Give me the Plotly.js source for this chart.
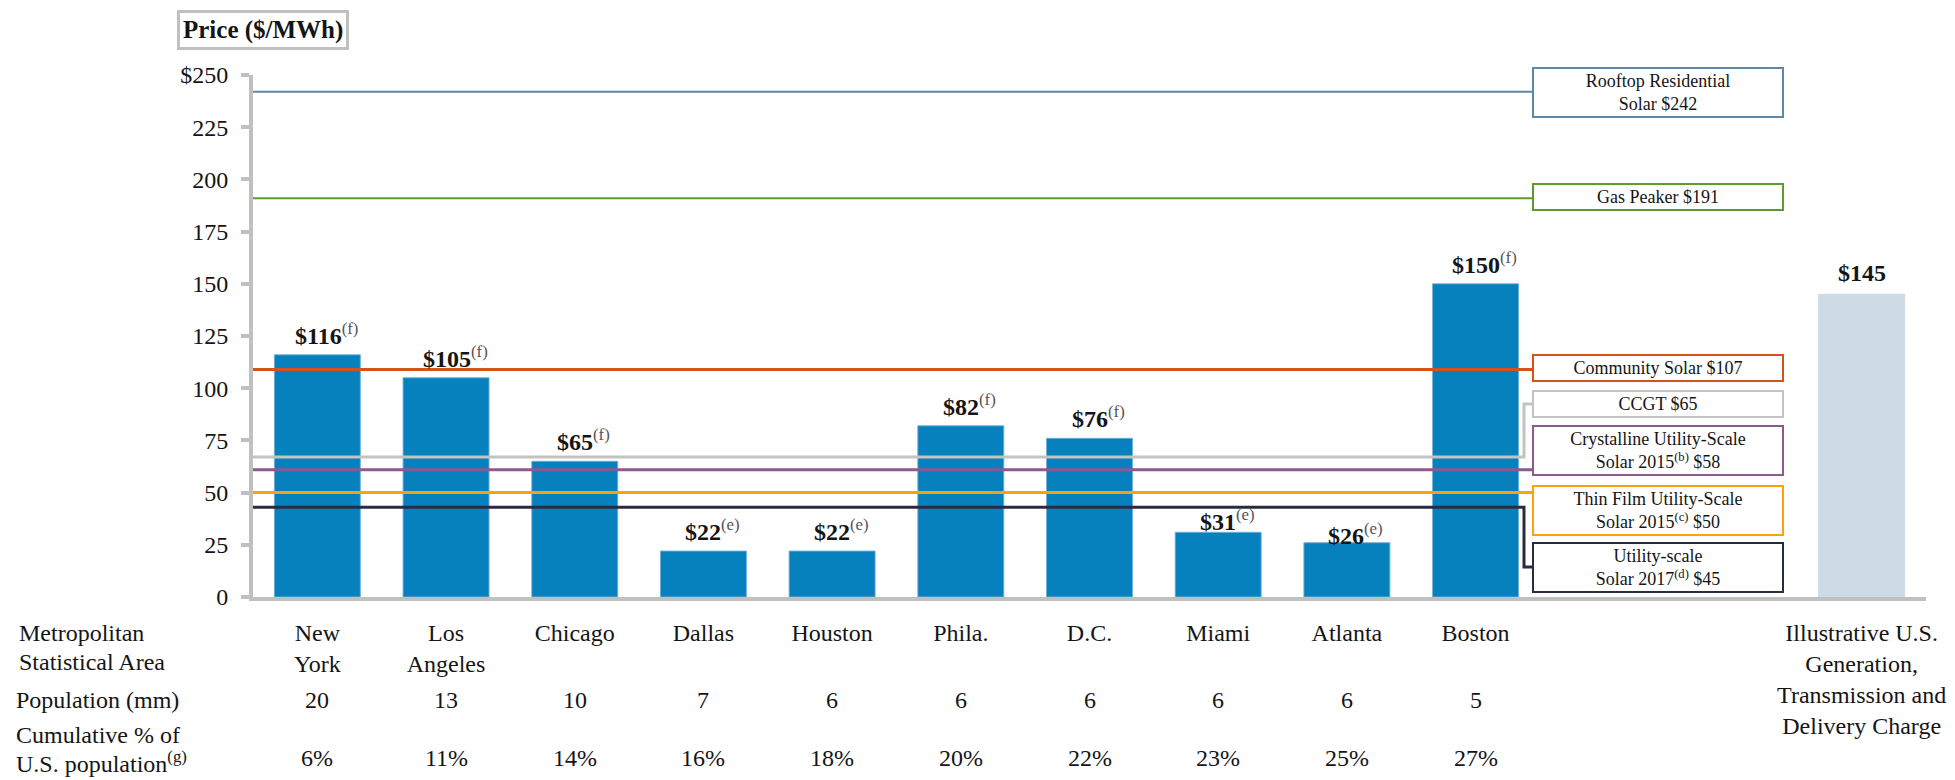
<!DOCTYPE html>
<html>
<head>
<meta charset="utf-8">
<script src="https://cdn.plot.ly/plotly-3.0.1.min.js"></script>
<style>
  html, body { margin: 0; padding: 0; background: #ffffff; }
  #chart { width: 1955px; height: 780px; }
</style>
</head>
<body>
<div id="chart"></div>
<script>
// ---------------- DATA ----------------
const cities = ['New<br>York', 'Los<br>Angeles', 'Chicago', 'Dallas', 'Houston', 'Phila.', 'D.C.', 'Miami', 'Atlanta', 'Boston'];
const prices = [116, 105, 65, 22, 22, 82, 76, 31, 26, 150];
const priceNotes = ['f', 'f', 'f', 'e', 'e', 'f', 'f', 'e', 'e', 'f'];
const population = [20, 13, 10, 7, 6, 6, 6, 6, 6, 5];
const cumulativePct = [6, 11, 14, 16, 18, 20, 22, 23, 25, 27];

const illustrativeName = 'Illustrative U.S.<br>Generation,<br>Transmission and<br>Delivery Charge';
const illustrativePrice = 145;

const benchmarkLabels = [
  'Rooftop Residential<br>Solar $242',
  'Gas Peaker $191',
  'Community Solar $107',
  'CCGT $65',
  'Crystalline Utility-Scale<br>Solar 2015<sup>(b)</sup> $58',
  'Thin Film Utility-Scale<br>Solar 2015<sup>(c)</sup> $50',
  'Utility-scale<br>Solar 2017<sup>(d)</sup> $45'
];
const benchmarkLevels = [242, 191, 109, 67, 61, 50, 43];

const yTickVals = [0, 25, 50, 75, 100, 125, 150, 175, 200, 225, 250];
const yTickText = ['0', '25', '50', '75', '100', '125', '150', '175', '200', '225', '$250'];

const rowLabels = ['Metropolitan<br>Statistical Area', 'Population (mm)', 'Cumulative % of<br>U.S. population<sup>(g)</sup>'];
const yTitle = 'Price ($/MWh)';

// ---------------- STYLE / GEOMETRY ----------------
const W = 1955, H = 780;
const M = { l: 253, r: 29, t: 75, b: 183 };
const PW = W - M.l - M.r, PH = H - M.t - M.b;
const YMAX = 250;
const px2x = px => (px - M.l) / PW;
const py2y = py => (H - M.b - py) / PH;
const py2data = py => (H - M.b - py) / PH * YMAX;

const FONT = '"Liberation Serif", "Times New Roman", serif';
const TXT = '#151515';
const BAR = '#0781be';
const BAR_LIGHT = '#cddbe6';
const AXIS = '#c0c0c0';

const lineColors = ['#5f87a8', '#5f9a2d', '#d5521c', '#c3c3c3', '#8b5b8d', '#ffa10a', '#272c42'];
const lineWidths = [2, 2, 3, 3, 3, 3, 3];
const boxCenterPx = [93, 196.5, 367.5, 404, 450.5, 510.5, 567];
const boxElbow = [false, false, false, true, false, false, true];
const boxLeftPx = 1532, boxRightPx = 1784, elbowPx = 1524;
const labelDrop = { 'Miami': -9, 'Atlanta': -12 };
const rowLineCenters = [[633, 662], [700], [735, 762]];
const rowLeftPx = [17, 14, 14];

// categories (two blank spacer slots before the illustrative bar)
const spacers = [' ', '  '];
const xCats = [...cities, ...spacers, illustrativeName];
const yVals = [...prices, null, null, illustrativePrice];
const colors = [...cities.map(() => BAR), BAR_LIGHT, BAR_LIGHT, BAR_LIGHT];
const edgeColors = [...cities.map(() => 'rgba(110,175,215,0.9)'), BAR_LIGHT, BAR_LIGHT, BAR_LIGHT];

const traces = [{
  type: 'bar',
  x: xCats,
  y: yVals,
  marker: { color: colors, line: { color: edgeColors, width: 1 } },
  hoverinfo: 'skip',
  showlegend: false
}];

const shapes = [];
const annotations = [];

// benchmark lines + boxes
benchmarkLevels.forEach((lvl, i) => {
  const c = lineColors[i];
  const bx = px2x(boxLeftPx);
  let path;
  if (boxElbow[i]) {
    const ex = px2x(elbowPx);
    const by = py2data(boxCenterPx[i]);
    path = `M 0,${lvl} H ${ex} V ${by} H ${bx}`;
  } else {
    path = `M 0,${lvl} H ${bx}`;
  }
  shapes.push({ type: 'path', xref: 'paper', yref: 'y', path: path, line: { color: c, width: lineWidths[i] } });
  annotations.push({
    xref: 'paper', yref: 'paper',
    x: px2x((boxLeftPx + boxRightPx) / 2), y: py2y(boxCenterPx[i]),
    xanchor: 'center', yanchor: 'middle',
    text: benchmarkLabels[i], showarrow: false, align: 'center',
    width: 244, borderpad: 2, borderwidth: 2, bordercolor: c, bgcolor: '#ffffff',
    font: { family: FONT, size: 18, color: TXT }
  });
});

// bar value labels
cities.forEach((c, i) => {
  annotations.push({
    xref: 'x', yref: 'y', x: c, y: prices[i],
    xanchor: 'center', yanchor: 'bottom', xshift: 9, yshift: 4 + (labelDrop[c] || 0),
    text: `<b>$${prices[i]}</b><sup><span style="color:#555">(${priceNotes[i]})</span></sup>`,
    showarrow: false, font: { family: FONT, size: 24, color: TXT }
  });
});
annotations.push({
  xref: 'x', yref: 'y', x: illustrativeName, y: illustrativePrice,
  xanchor: 'center', yanchor: 'bottom', yshift: 6,
  text: `<b>$${illustrativePrice}</b>`, showarrow: false,
  font: { family: FONT, size: 24, color: TXT }
});

// table rows
cities.forEach((c, i) => {
  annotations.push({
    xref: 'x', yref: 'paper', x: c, y: py2y(700), xanchor: 'center', yanchor: 'middle',
    text: String(population[i]), showarrow: false, font: { family: FONT, size: 24, color: TXT }
  });
  annotations.push({
    xref: 'x', yref: 'paper', x: c, y: py2y(758), xanchor: 'center', yanchor: 'middle',
    text: cumulativePct[i] + '%', showarrow: false, font: { family: FONT, size: 24, color: TXT }
  });
});

// row labels, one annotation per line for tight line spacing
rowLabels.forEach((t, i) => {
  t.split('<br>').forEach((line, j) => {
    annotations.push({
      xref: 'paper', yref: 'paper', x: px2x(rowLeftPx[i]), y: py2y(rowLineCenters[i][j]),
      xanchor: 'left', yanchor: 'middle', align: 'left',
      text: line, showarrow: false, font: { family: FONT, size: 24, color: TXT }
    });
  });
});

// axis title box
annotations.push({
  xref: 'paper', yref: 'paper', x: px2x(262.5), y: py2y(30),
  xanchor: 'center', yanchor: 'middle',
  text: `<b>${yTitle}</b>`, showarrow: false,
  borderwidth: 3, bordercolor: AXIS, borderpad: 3, bgcolor: '#ffffff',
  font: { family: FONT, size: 25, color: TXT }
});

const layout = {
  width: W, height: H,
  margin: M,
  paper_bgcolor: '#ffffff', plot_bgcolor: '#ffffff',
  font: { family: FONT, size: 24, color: TXT },
  bargap: 0.332,
  showlegend: false,
  xaxis: {
    type: 'category', categoryorder: 'array', categoryarray: xCats,
    range: [-0.5, 12.5], showgrid: false, zeroline: false,
    showline: true, linecolor: AXIS, linewidth: 4,
    ticks: '', tickfont: { family: FONT, size: 24, color: TXT },
    ticklabelstandoff: 11, fixedrange: true
  },
  yaxis: {
    range: [0, YMAX], showgrid: false, zeroline: false,
    showline: true, linecolor: AXIS, linewidth: 4,
    ticks: 'outside', ticklen: 8, tickwidth: 4, tickcolor: AXIS,
    tickvals: yTickVals, ticktext: yTickText,
    tickfont: { family: FONT, size: 24, color: TXT },
    ticklabelstandoff: 8, fixedrange: true
  },
  shapes: shapes,
  annotations: annotations
};

Plotly.newPlot('chart', traces, layout, { displayModeBar: false, staticPlot: true });
</script>
</body>
</html>
